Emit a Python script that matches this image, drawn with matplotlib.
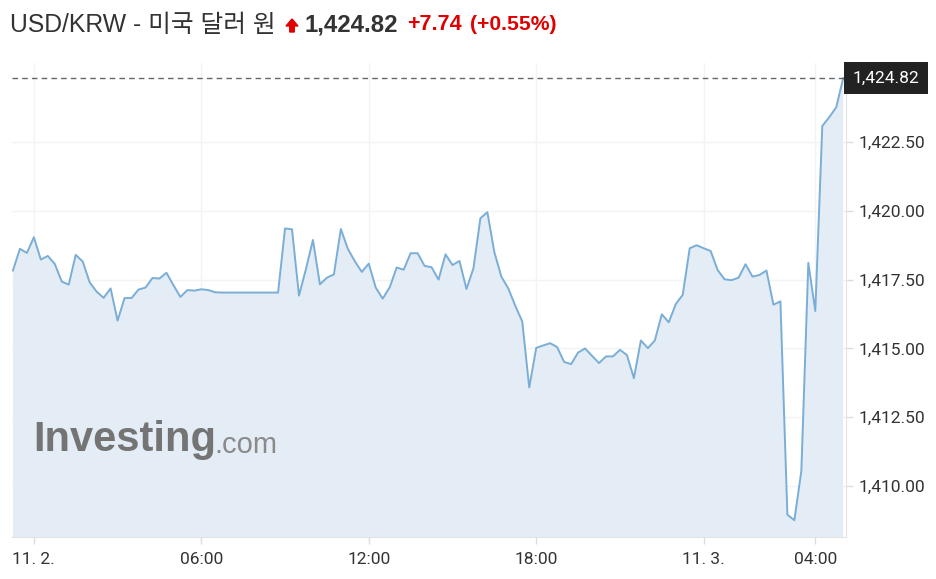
import matplotlib
matplotlib.use('Agg')
import matplotlib.pyplot as plt
from matplotlib.patches import FancyArrow
import pandas as pd

# USD/KRW 15-minute closes, 11.1 23:15 -> 11.3 05:00
start = '2025-11-01 23:15'
prices = [
    1417.83, 1418.62, 1418.47, 1419.04, 1418.23, 1418.36, 1418.07, 1417.43, 1417.32, 1418.40,
    1418.16, 1417.40, 1417.06, 1416.84, 1417.18, 1416.01, 1416.83, 1416.83, 1417.14, 1417.21,
    1417.56, 1417.54, 1417.75, 1417.30, 1416.87, 1417.12, 1417.10, 1417.15, 1417.12, 1417.04,
    1417.03, 1417.03, 1417.03, 1417.03, 1417.03, 1417.03, 1417.03, 1417.03, 1417.03, 1419.36,
    1419.33, 1416.92, 1417.89, 1418.94, 1417.33, 1417.57, 1417.69, 1419.34, 1418.62, 1418.17,
    1417.78, 1418.08, 1417.21, 1416.81, 1417.22, 1417.94, 1417.86, 1418.46, 1418.46, 1418.00,
    1417.95, 1417.50, 1418.42, 1418.03, 1418.18, 1417.16, 1417.91, 1419.73, 1419.95, 1418.50,
    1417.61, 1417.18, 1416.55, 1415.98, 1413.58, 1415.02, 1415.11, 1415.19, 1415.05, 1414.51,
    1414.43, 1414.85, 1415.00, 1414.73, 1414.47, 1414.71, 1414.71, 1414.95, 1414.76, 1413.92,
    1415.29, 1415.01, 1415.29, 1416.24, 1415.95, 1416.61, 1416.95, 1418.64, 1418.75, 1418.64,
    1418.54, 1417.85, 1417.51, 1417.48, 1417.57, 1418.06, 1417.61, 1417.67, 1417.83, 1416.59,
    1416.71, 1408.96, 1408.76, 1410.55, 1418.11, 1416.36, 1423.08, 1423.40, 1423.76, 1424.82,
]
tick_times = ['2025-11-02 00:00', '2025-11-02 06:00', '2025-11-02 12:00',
              '2025-11-02 18:00', '2025-11-03 00:00', '2025-11-03 04:00']
tick_labels = ['11. 2.', '06:00', '12:00', '18:00', '11. 3.', '04:00']
yticks = [1410.0, 1412.5, 1415.0, 1417.5, 1420.0, 1422.5]
last = 1424.82
change = 7.74
change_pct = 0.55

times = pd.date_range(start, periods=len(prices), freq='15min')

W, H = 937, 579
fig = plt.figure(figsize=(W / 100, H / 100), dpi=100)
ax = fig.add_axes([12 / W, 42 / H, 834 / W, 474 / H])

ax.fill_between(times, prices, 1400, color='#e4edf5', lw=0)
ax.plot(times, prices, color='#7aaed6', lw=1.4)
ax.set_ylim(1408.15, 1425.37)
ax.set_xlim(times[0] - pd.Timedelta(minutes=2), times[-1] + pd.Timedelta(minutes=6))

ax.axhline(last, color='#666666', ls=(0, (4, 3)), lw=1)

ax.yaxis.tick_right()
ax.set_yticks(yticks)
ax.set_yticklabels([f'{v:,.2f}' for v in yticks])
ax.set_xticks(pd.to_datetime(tick_times))
ax.set_xticklabels(tick_labels)
ax.tick_params(axis='both', colors='#dddddd', labelcolor='#333333', labelsize=12.5,
               length=5, width=1)
ax.tick_params(axis='y', pad=4)
ax.tick_params(axis='x', pad=6)
for lbl in ax.get_xticklabels() + ax.get_yticklabels():
    lbl.set_family('Roboto')

ax.grid(True, color='#f3f3f3', lw=1)
ax.set_axisbelow(True)
for s in ['top', 'left']:
    ax.spines[s].set_visible(False)
ax.spines['right'].set_color('#e3e3e3')
ax.spines['bottom'].set_color('#e3e3e3')

# last price tag
ax.annotate(f'{last:,.2f}', xy=(1, last), xycoords=('axes fraction', 'data'),
            xytext=(4.8, 0), textcoords='offset points', ha='left', va='center',
            color='white', fontsize=12.5, family='Roboto',
            bbox=dict(fc='#222222', ec='none', boxstyle='square,pad=0.5'))

# watermark
ax.text(0.025, 0.205, 'Investing', transform=ax.transAxes, fontsize=30,
        fontweight='bold', family='Liberation Sans', color='#747474', va='center')
ax.text(0.243, 0.195, '.com', transform=ax.transAxes, fontsize=21,
        family='Liberation Sans', color='#8a8a8a', va='center')


# header
def px(x, y):
    return x / W, 1 - y / H


fig.text(*px(10, 25), 'USD/KRW - 미국 달러 원', fontsize=17.8, color='#333333',
         family=['Liberation Sans', 'Noto Sans CJK KR'], va='center')
fig.add_artist(FancyArrow(292 / W, 1 - 32 / H, 0, 13 / H, width=4.5 / W,
                          head_width=12 / W, head_length=7 / H,
                          length_includes_head=True, color='#e00000',
                          transform=fig.transFigure))
fig.text(*px(305, 25), f'{last:,.2f}', fontsize=17.3, fontweight='bold', color='#333333',
         family='Liberation Sans', va='center')
fig.text(*px(407, 25), f'+{change:.2f}', fontsize=15.5, fontweight='bold', color='#e00000',
         family='Liberation Sans', va='center')
fig.text(*px(470, 25), f'(+{change_pct:.2f}%)', fontsize=15.2, fontweight='bold', color='#e00000',
         family='Liberation Sans', va='center')

fig.savefig('out.png', dpi=100)
